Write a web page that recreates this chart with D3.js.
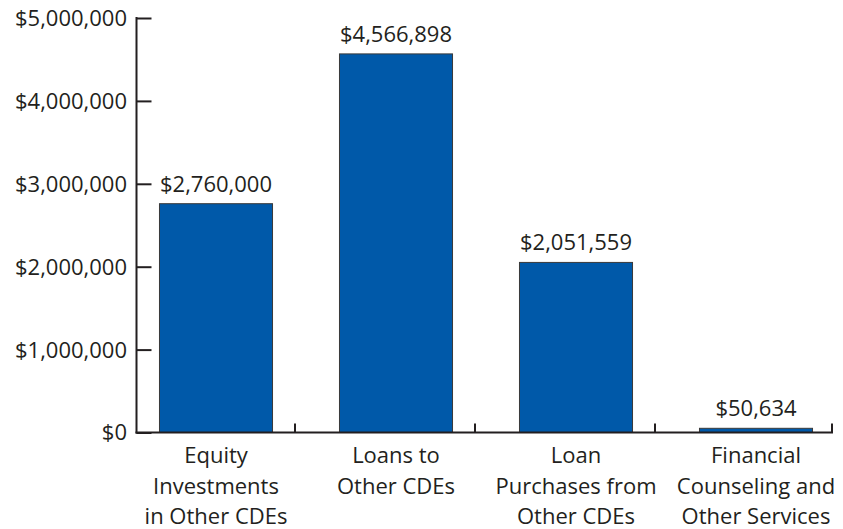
<!DOCTYPE html>
<html>
<head>
<meta charset="utf-8">
<script src="https://cdn.jsdelivr.net/npm/d3@7"></script>
<style>
  html, body { margin: 0; padding: 0; background: #fff; }
  svg text { font-family: "Open Sans", "Noto Sans", sans-serif; fill: #231f20; }
</style>
</head>
<body>
<svg id="chart" width="843" height="529"></svg>
<script>
// Category labels (one entry per line) and amounts
const categories = [
  ["Equity", "Investments", "in Other CDEs"],
  ["Loans to", "Other CDEs"],
  ["Loan", "Purchases from", "Other CDEs"],
  ["Financial", "Counseling and", "Other Services"]
];
const amounts = [2760000, 4566898, 2051559, 50634];
const yTickValues = [0, 1000000, 2000000, 3000000, 4000000, 5000000];

const svg = d3.select("#chart");
const fontSize = 22;
const fmt = v => "$" + d3.format(",")(v);

const axisLeft = 136.5, axisRight = 832, y0 = 432.5, yTop = 18;

const x = d3.scaleBand()
  .domain(d3.range(categories.length))
  .range([126, 846])
  .paddingInner(0.372)
  .paddingOuter(0.186);

const y = d3.scaleLinear().domain([0, 5000000]).range([y0, yTop]);

// Bars
svg.append("g").selectAll("rect")
  .data(amounts)
  .join("rect")
  .attr("x", (d, i) => x(i))
  .attr("y", d => y(d))
  .attr("width", x.bandwidth())
  .attr("height", d => y0 - y(d))
  .attr("fill", "#0059a9")
  .attr("stroke", "#3a3a3a")
  .attr("stroke-width", 1);

// Value labels above bars
svg.append("g").selectAll("text")
  .data(amounts)
  .join("text")
  .attr("x", (d, i) => x(i) + x.bandwidth() / 2)
  .attr("y", d => y(d) - 12)
  .attr("text-anchor", "middle")
  .attr("font-size", fontSize)
  .text(d => fmt(d));

// Y axis: line with inward ticks
const yAxis = d3.axisRight(y)
  .tickValues(yTickValues)
  .tickSize(15)
  .tickFormat("");
const gy = svg.append("g").attr("transform", `translate(${axisLeft},0)`).call(yAxis);
gy.select(".domain").remove();
gy.selectAll(".tick line").attr("stroke", "#231f20").attr("stroke-width", 2);
svg.append("line")
  .attr("x1", axisLeft).attr("x2", axisLeft)
  .attr("y1", yTop - 1).attr("y2", y0 + 1)
  .attr("stroke", "#231f20").attr("stroke-width", 2);

// Y tick labels
svg.append("g").selectAll("text")
  .data(yTickValues)
  .join("text")
  .attr("x", 127)
  .attr("y", d => y(d))
  .attr("dy", "0.36em")
  .attr("text-anchor", "end")
  .attr("font-size", fontSize)
  .text(d => fmt(d));

// X axis baseline with upward separator ticks
svg.append("line")
  .attr("x1", axisLeft - 1).attr("x2", axisRight + 1)
  .attr("y1", y0).attr("y2", y0)
  .attr("stroke", "#231f20").attr("stroke-width", 2);
const sepX = d3.range(1, categories.length).map(i => x(i) - x.step() * x.paddingInner() / 2 - 11)
  .concat([axisRight]);
svg.append("g").selectAll("line")
  .data(sepX)
  .join("line")
  .attr("x1", d => d).attr("x2", d => d)
  .attr("y1", y0).attr("y2", y0 - 9)
  .attr("stroke", "#231f20").attr("stroke-width", 2);

// Category labels
const cat = svg.append("g").selectAll("text")
  .data(categories)
  .join("text")
  .attr("text-anchor", "middle")
  .attr("font-size", fontSize)
  .attr("transform", (d, i) => `translate(${x(i) + x.bandwidth() / 2},0)`);
cat.selectAll("tspan")
  .data(d => d)
  .join("tspan")
  .attr("x", 0)
  .attr("y", (d, j) => 463 + j * 30.5)
  .text(d => d);
</script>
</body>
</html>
